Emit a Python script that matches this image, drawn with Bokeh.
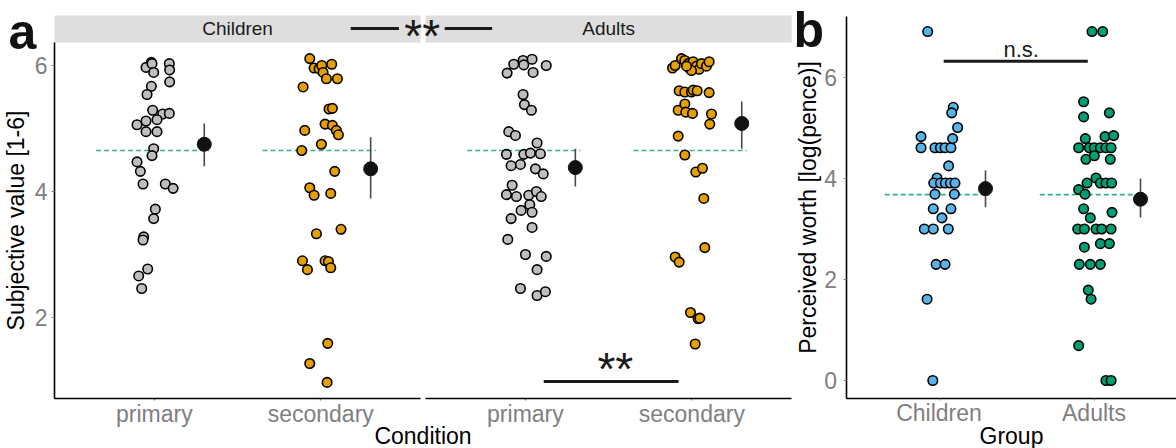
from bokeh.plotting import figure
from bokeh.layouts import row
from bokeh.models import Range1d, FixedTicker, Label, LinearAxis
from bokeh.embed import file_html
from bokeh.resources import INLINE
from bokeh.core.properties import value

FONT = "Liberation Sans"

# ---------------- Panel a data ----------------
conditions = ["primary", "secondary"]
facets = ["Children", "Adults"]

children_primary_jitter = [-0.018, -0.050, -0.014, -0.004, 0.090, 0.092, 0.092, -0.018, -0.044, -0.010, 0.050,
                           0.090, -0.104, -0.050, 0.016, -0.050, 0.016, -0.004, -0.014, -0.104, -0.084, -0.068,
                           0.066, 0.113, 0.006, -0.004, -0.064, -0.068, -0.040, -0.094, -0.076]
children_primary_value = [6.05, 5.97, 6.03, 5.89, 6.03, 5.93, 5.74, 5.67, 5.54, 5.29, 5.23, 5.24, 5.06, 5.12,
                          5.14, 4.95, 4.95, 4.68, 4.57, 4.47, 4.32, 4.12, 4.12, 4.05, 3.72, 3.57, 3.28, 3.23,
                          2.77, 2.66, 2.46]

children_secondary_jitter = [-0.066, -0.040, -0.010, 0.006, 0.014, 0.034, 0.066, 0.100, -0.106, 0.050, 0.070,
                             0.026, 0.070, 0.094, 0.106, -0.096, -0.114, 0.004, 0.084, -0.066, -0.040, 0.060,
                             -0.026, 0.122, -0.110, -0.080, 0.026, 0.046, 0.060, 0.042, -0.066, 0.038]
children_secondary_value = [6.11, 5.96, 5.95, 6.00, 5.89, 5.79, 6.02, 5.79, 5.66, 5.31, 5.32, 5.07, 5.05, 4.97,
                            4.90, 4.97, 4.65, 4.75, 4.32, 4.06, 3.94, 3.97, 3.33, 3.40, 2.90, 2.76, 2.90, 2.89,
                            2.79, 1.59, 1.27, 0.97]

adults_primary_jitter = [-0.110, -0.070, -0.014, 0.040, -0.010, 0.046, 0.125, -0.014, -0.006, 0.036, -0.100,
                         -0.060, -0.114, -0.010, 0.030, 0.070, 0.090, -0.086, -0.030, 0.060, 0.107, -0.080,
                         -0.114, -0.054, 0.020, 0.066, 0.095, 0.026, -0.026, 0.040, -0.086, 0.040, -0.106,
                         0.000, 0.125, 0.070, -0.030, 0.070, 0.120]
adults_primary_value = [5.88, 6.02, 6.08, 6.10, 6.01, 5.89, 6.00, 5.54, 5.38, 5.29, 4.95, 4.89, 4.59, 4.59,
                        4.61, 4.77, 4.60, 4.41, 4.43, 4.36, 4.28, 4.10, 3.95, 3.92, 3.94, 4.00, 3.92, 3.79,
                        3.70, 3.67, 3.57, 3.43, 3.24, 3.00, 2.97, 2.76, 2.46, 2.35, 2.41]

adults_secondary_jitter = [-0.116, -0.100, -0.062, -0.042, -0.022, -0.012, 0.008, 0.028, 0.044, 0.058, 0.088,
                           0.104, -0.002, -0.032, -0.076, -0.042, -0.002, 0.008, 0.032, 0.104, -0.082, -0.042,
                           -0.036, 0.004, 0.118, 0.108, -0.082, -0.042, 0.024, 0.064, 0.072, 0.078, -0.100,
                           -0.076, -0.008, 0.038, 0.048, 0.020]
adults_secondary_value = [5.96, 6.00, 6.11, 6.08, 6.03, 5.95, 6.06, 5.99, 5.94, 6.03, 5.99, 6.06, 5.92, 5.99,
                          5.60, 5.58, 5.58, 5.61, 5.60, 5.57, 5.29, 5.39, 5.26, 5.24, 5.23, 5.07, 4.88, 4.58,
                          4.31, 4.37, 3.89, 3.11, 2.96, 2.88, 2.08, 1.98, 1.99, 1.58]

# means and intervals: children primary, children secondary, adults primary, adults secondary
means_a = [4.75, 4.36, 4.38, 5.08]
lower_a = [4.40, 3.89, 4.08, 4.68]
upper_a = [5.08, 4.86, 4.68, 5.43]
reference_a = 4.65
yticks_a = [2, 4, 6]

# ---------------- Panel b data ----------------
groups_b = ["Children", "Adults"]
children_worth_jitter = [-0.073, 0.092, 0.082, 0.120, -0.116, -0.116, -0.026, 0.009, 0.039, 0.077, 0.088, 0.062,
                         -0.013, -0.034, 0.009, 0.041, 0.073, 0.103, -0.026, 0.099, -0.037, 0.077, 0.019,
                         -0.095, -0.037, 0.060, -0.019, 0.039, -0.077, -0.040]
children_worth_value = [6.91, 5.41, 5.30, 5.01, 4.83, 4.61, 4.61, 4.61, 4.61, 4.61, 4.79, 4.25, 4.01, 3.91,
                        3.91, 3.91, 3.91, 3.91, 3.69, 3.69, 3.40, 3.40, 3.22, 3.00, 3.00, 3.00, 2.30, 2.30,
                        1.61, 0.00]
adults_worth_jitter = [-0.013, 0.056, -0.067, -0.067, 0.099, -0.056, 0.071, 0.127, -0.099, -0.030, 0.002, 0.041,
                       0.077, 0.110, -0.052, 0.002, 0.105, -0.045, 0.013, 0.041, 0.077, 0.114, -0.099, -0.058,
                       -0.067, -0.024, 0.116, -0.105, -0.062, 0.013, 0.050, 0.110, -0.062, 0.041, 0.099,
                       -0.095, -0.024, 0.041, -0.037, -0.019, -0.099, 0.077, 0.110]
adults_worth_value = [6.91, 6.91, 5.52, 5.22, 5.30, 4.79, 4.83, 4.85, 4.61, 4.61, 4.61, 4.61, 4.61, 4.61, 4.38,
                      4.45, 4.38, 3.91, 4.01, 3.91, 3.91, 3.91, 3.78, 3.69, 3.40, 3.22, 3.33, 3.00, 3.00, 3.00,
                      3.00, 3.00, 2.64, 2.71, 2.71, 2.30, 2.30, 2.30, 1.79, 1.61, 0.69, 0.00, 0.00]
means_b = [3.80, 3.59]
lower_b = [3.43, 3.23]
upper_b = [4.16, 4.00]
reference_b = 3.68
yticks_b = [0, 2, 4, 6]

# ---------------- styling ----------------
GREY_FILL = "#BEBEBE"
ORANGE = "#E69F00"
BLUE = "#56B4E9"
GREEN = "#009E73"
DASH_COL = "#35B48C"
TICK_GREY = "#808080"
INK = "#1A1A1A"
MEAN_OFF = 0.3
DASH_L, DASH_R = -0.35, 0.33


def base_figure(width, xr, yr):
    p = figure(width=width, height=448, x_range=Range1d(*xr), y_range=Range1d(*yr),
               output_backend="svg", toolbar_location=None, x_axis_location=None, y_axis_location=None,
               min_border_left=0, min_border_right=0, min_border_top=0, min_border_bottom=0)
    p.xgrid.visible = False
    p.ygrid.visible = False
    p.outline_line_color = None
    p.background_fill_color = "white"
    p.border_fill_color = "white"
    return p


def make_axis(p, side, ticks, labels, fixed, bounds, title=None, line=True, ticks_on=True, labels_on=True,
              tick_out=3, standoff=0, title_standoff=0):
    ax = LinearAxis(fixed_location=fixed, bounds=bounds, ticker=FixedTicker(ticks=ticks),
                    major_label_overrides={t: l for t, l in zip(ticks, labels)})
    ax.axis_line_color = "black" if line else None
    ax.axis_line_width = 1.6
    ax.major_tick_line_color = TICK_GREY if ticks_on else None
    ax.major_tick_line_width = 1.2
    ax.major_tick_out = tick_out
    ax.major_tick_in = 0
    ax.minor_tick_line_color = None
    ax.major_label_text_font = FONT
    ax.major_label_text_font_size = "23px"
    ax.major_label_text_color = TICK_GREY if labels_on else None
    ax.major_label_standoff = standoff
    if title:
        ax.axis_label = title
        ax.axis_label_text_font = FONT
        ax.axis_label_text_font_size = "23px"
        ax.axis_label_text_font_style = "normal"
        ax.axis_label_text_color = "black"
        ax.axis_label_standoff = title_standoff
    p.add_layout(ax, side)
    return ax


def draw_points(p, xs0, jit, vals, fill):
    xs = [xs0 + j for j in jit]
    p.scatter(xs, vals, size=9.5, fill_color=fill, line_color="black", line_width=1.6)


def draw_summary(p, xs0, lo, hi, ref):
    p.segment(x0=[xs0 + DASH_L], x1=[xs0 + DASH_R], y0=[ref], y1=[ref], line_color=DASH_COL,
              line_width=1.6, line_dash="5 3")
    p.segment(x0=[xs0 + MEAN_OFF], x1=[xs0 + MEAN_OFF], y0=[lo], y1=[hi], line_color="#4A4A4A", line_width=1.6)


# ---------------- Panel a ----------------
FACET_SHIFT = 2.23
A_AXIS_Y = 0.714
A_PANEL_TOP = 6.365
A_STRIP_TOP = 6.794
A_LEFT = 0.4
A_RIGHT = 0.4 + FACET_SHIFT + 2.2
pa = base_figure(792, (0.0755, 4.835), (-0.079, 7.032))

# facet strips
pa.quad(left=[A_LEFT, A_LEFT + FACET_SHIFT], right=[2.6, 2.6 + FACET_SHIFT], bottom=A_PANEL_TOP,
        top=A_STRIP_TOP, fill_color="#DEDEDE", line_color=None)
pa.text(x=[1.5, 1.5 + FACET_SHIFT], y=[6.58, 6.58], text=facets, text_font=value(FONT),
        text_font_size="19px", text_color=INK, text_align="center", text_baseline="middle")

series_a = [
    (1, children_primary_jitter, children_primary_value, GREY_FILL),
    (2, children_secondary_jitter, children_secondary_value, ORANGE),
    (1 + FACET_SHIFT, adults_primary_jitter, adults_primary_value, GREY_FILL),
    (2 + FACET_SHIFT, adults_secondary_jitter, adults_secondary_value, ORANGE),
]
for i, (x0, jit, vals, col) in enumerate(series_a):
    draw_summary(pa, x0, lower_a[i], upper_a[i], reference_a)
    draw_points(pa, x0, jit, vals, col)
pa.scatter([s[0] + MEAN_OFF for s in series_a], means_a, size=14, fill_color="#111111", line_color="#111111")

# significance: children vs adults (top) and primary vs secondary in adults (bottom)
pa.segment(x0=[2.18, 2.745], x1=[2.47, 3.03], y0=[6.587, 6.587], y1=[6.587, 6.587], line_color=INK,
           line_width=3)
pa.text(x=[2.61], y=[6.476], text=["**"], text_font=value(FONT), text_font_size="46px",
        text_color=INK, text_align="center", text_baseline="alphabetic")
pa.segment(x0=[3.34], x1=[4.15], y0=[0.984], y1=[0.984], line_color=INK, line_width=3)
pa.text(x=[3.77], y=[1.19], text=["**"], text_font=value(FONT), text_font_size="46px",
        text_color=INK, text_align="center", text_baseline="alphabetic")

xt1 = [1, 2]
xt2 = [1 + FACET_SHIFT, 2 + FACET_SHIFT]
# tick marks, tick labels and title across both facets; the axis lines are drawn per facet
make_axis(pa, "below", xt1 + xt2, conditions + conditions, A_AXIS_Y, (A_LEFT, A_RIGHT), title="Condition",
          line=False, tick_out=2, standoff=0, title_standoff=-7)
make_axis(pa, "below", xt1, conditions, A_AXIS_Y, (A_LEFT, 2.6), ticks_on=False, labels_on=False)
make_axis(pa, "below", xt2, conditions, A_AXIS_Y, (A_LEFT + FACET_SHIFT, A_RIGHT), ticks_on=False,
          labels_on=False)
make_axis(pa, "left", yticks_a, [str(t) for t in yticks_a], A_LEFT, (A_AXIS_Y, A_PANEL_TOP),
          title="Subjective value [1-6]", tick_out=3, standoff=4, title_standoff=3)

pa.add_layout(Label(x=8, y=417, x_units="screen", y_units="screen", text="a", text_font=FONT,
                    text_font_size="50px", text_font_style="bold", text_color="#111111",
                    text_baseline="alphabetic"))

# ---------------- Panel b ----------------
B_AXIS_Y = -0.356
B_LEFT = 0.4
pb = base_figure(384, (0.0548, 2.5322), (-1.3465, 7.525))
series_b = [
    (1, children_worth_jitter, children_worth_value, BLUE),
    (2, adults_worth_jitter, adults_worth_value, GREEN),
]
for i, (x0, jit, vals, col) in enumerate(series_b):
    draw_summary(pb, x0, lower_b[i], upper_b[i], reference_b)
    draw_points(pb, x0, jit, vals, col)
pb.scatter([s[0] + MEAN_OFF for s in series_b], means_b, size=14, fill_color="#111111", line_color="#111111")

pb.segment(x0=[1.03], x1=[1.96], y0=[6.32], y1=[6.32], line_color=INK, line_width=3)
pb.text(x=[1.53], y=[6.55], text=["n.s."], text_font=value(FONT), text_font_size="22px",
        text_color=INK, text_align="center", text_baseline="alphabetic")

make_axis(pb, "below", [1, 2], groups_b, B_AXIS_Y, (B_LEFT, 2.6), title="Group", tick_out=2, standoff=0,
          title_standoff=-7)
make_axis(pb, "left", yticks_b, [str(t) for t in yticks_b], B_LEFT, (B_AXIS_Y, 7.208),
          title="Perceived worth [log(pence)]", tick_out=3, standoff=6, title_standoff=1)

pb.add_layout(Label(x=1, y=419, x_units="screen", y_units="screen", text="b", text_font=FONT,
                    text_font_size="50px", text_font_style="bold", text_color="#111111",
                    text_baseline="alphabetic"))

layout = row(pa, pb)
open("out.html", "w").write(file_html(layout, INLINE))
